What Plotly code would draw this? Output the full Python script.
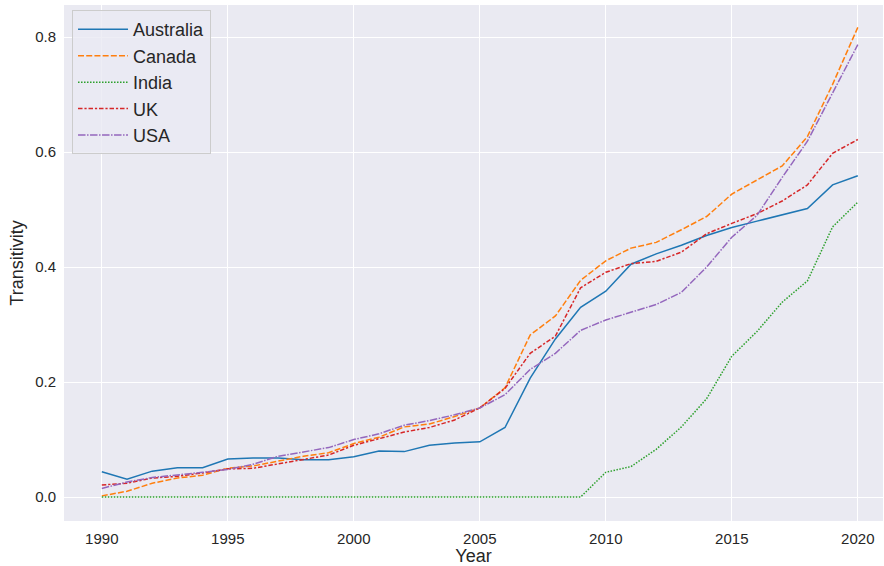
import plotly.graph_objects as go

years = list(range(1990, 2021))

australia = [0.044, 0.031, 0.045, 0.051, 0.051, 0.066, 0.068, 0.068, 0.065, 0.065, 0.070,
             0.080, 0.079, 0.090, 0.094, 0.096, 0.121, 0.207, 0.275, 0.330, 0.358,
             0.405, 0.423, 0.438, 0.455, 0.469, 0.480, 0.491, 0.502, 0.543, 0.559]
canada = [0.002, 0.010, 0.024, 0.033, 0.038, 0.050, 0.054, 0.063, 0.071, 0.077, 0.093,
          0.104, 0.122, 0.127, 0.140, 0.155, 0.190, 0.282, 0.315, 0.377, 0.411,
          0.433, 0.443, 0.465, 0.488, 0.527, 0.551, 0.576, 0.627, 0.718, 0.817]
india = [0.0] * 20 + [0.043, 0.053, 0.083, 0.122, 0.171, 0.245, 0.288, 0.339, 0.376, 0.470, 0.513]
uk = [0.021, 0.024, 0.033, 0.036, 0.042, 0.049, 0.050, 0.058, 0.066, 0.073, 0.090,
      0.102, 0.113, 0.121, 0.134, 0.155, 0.189, 0.250, 0.280, 0.364, 0.391,
      0.406, 0.410, 0.426, 0.458, 0.476, 0.493, 0.515, 0.543, 0.598, 0.622]
usa = [0.015, 0.026, 0.034, 0.038, 0.043, 0.048, 0.057, 0.071, 0.079, 0.086, 0.100,
       0.110, 0.125, 0.133, 0.143, 0.155, 0.178, 0.222, 0.250, 0.290, 0.308,
       0.321, 0.335, 0.356, 0.400, 0.452, 0.490, 0.556, 0.619, 0.703, 0.787]

series = [
    ("Australia", australia, "#1f77b4", "solid"),
    ("Canada", canada, "#ff7f0e", "6px,2.2px"),
    ("India", india, "#2ca02c", "1.5px,1.5px"),
    ("UK", uk, "#d62728", "4.5px,1.9px,2.2px,1.9px"),
    ("USA", usa, "#9467bd", "7.5px,1.5px,1.5px,1.5px"),
]

fig = go.Figure()
for name, vals, color, dash in series:
    fig.add_trace(go.Scatter(x=years, y=vals, mode="lines", name=name,
                             line=dict(color=color, width=1.5, dash=dash)))

fig.update_layout(
    width=884, height=566,
    margin=dict(l=64, r=1, t=5, b=45),
    paper_bgcolor="white",
    plot_bgcolor="#EAEAF2",
    font=dict(family="Liberation Sans, Arial, sans-serif", size=15, color="#262626"),
    showlegend=True,
    legend=dict(x=0.0098, y=0.990, xanchor="left", yanchor="top",
                bgcolor="rgba(234,234,242,0.8)", bordercolor="#CCCCCC", borderwidth=1,
                font=dict(size=18, color="#262626"), itemwidth=50),
)
fig.update_xaxes(range=[1988.5, 2021.0], tickvals=[1990, 1995, 2000, 2005, 2010, 2015, 2020],
                 showgrid=True, gridcolor="white", gridwidth=1, zeroline=False,
                 showline=False, ticks="", automargin=False, ticklabelstandoff=7,
                 title=dict(text="Year", font=dict(size=18), standoff=0),
                 tickfont=dict(size=15))
fig.update_yaxes(range=[-0.0417, 0.856], tickvals=[0.0, 0.2, 0.4, 0.6, 0.8],
                 ticktext=["0.0", "0.2", "0.4", "0.6", "0.8"],
                 showgrid=True, gridcolor="white", gridwidth=1, zeroline=False,
                 showline=False, ticks="", automargin=False, ticklabelstandoff=7,
                 title=dict(text="Transitivity", font=dict(size=18), standoff=6),
                 tickfont=dict(size=15))

fig.write_html("out.html", config={"displayModeBar": False},
               post_script="document.body.style.margin='0';")
